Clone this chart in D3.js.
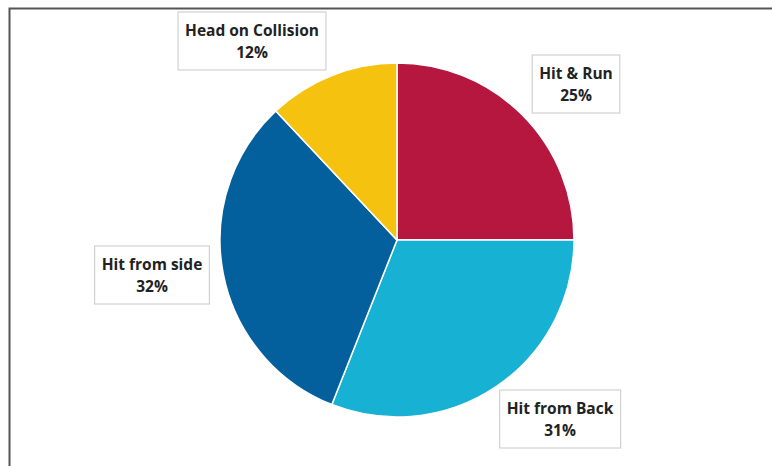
<!DOCTYPE html>
<html><head><meta charset="utf-8">
<script src="https://cdn.jsdelivr.net/npm/d3@7"></script>
<style>html,body{margin:0;padding:0;background:#fff;}svg{display:block;}</style>
</head><body>
<svg id="c" width="772" height="466"></svg>
<script>
const categories = ["Hit & Run", "Hit from Back", "Hit from side", "Head on Collision"];
const values = [25, 31, 32, 12];
const percentLabels = ["25%", "31%", "32%", "12%"];
const colors = ["#B5173F", "#17B1D3", "#04609D", "#F4C20F"];

// layout (label box centres)
const labelPos = [[576, 84], [560, 419], [152, 275], [252, 41]];

const svg = d3.select("#c");
// frame
svg.append("path").attr("d", "M9.5,466 V8.5 H772").attr("fill", "none").attr("stroke", "#555").attr("stroke-width", 2);

const cx = 397, cy = 240, r = 177;
const pie = d3.pie().sort(null).value(d => d)(values);
const arc = d3.arc().innerRadius(0).outerRadius(r);
const g = svg.append("g").attr("transform", `translate(${cx},${cy})`);
g.selectAll("path").data(pie).join("path")
  .attr("d", arc).attr("fill", (d, i) => colors[i])
  .attr("stroke", "#fff").attr("stroke-width", 1.5);

const lab = svg.append("g");
categories.forEach((c, i) => {
  const [x, y] = labelPos[i];
  const gg = lab.append("g").attr("transform", `translate(${x},${y})`);
  const t = gg.append("text").attr("text-anchor", "middle")
    .attr("font-family", "'Open Sans', sans-serif").attr("font-weight", "bold")
    .attr("font-size", 15.5).attr("fill", "#222");
  t.append("tspan").attr("x", 0).attr("y", -5).text(c);
  t.append("tspan").attr("x", 0).attr("y", 17).text(percentLabels[i]);
  const bb = t.node().getBBox();
  gg.insert("rect", "text")
    .attr("x", bb.x - 7).attr("y", -29).attr("width", bb.width + 14).attr("height", 58)
    .attr("fill", "#fff").attr("stroke", "#c8c8c8").attr("stroke-width", 1);
});
</script>
</body></html>
